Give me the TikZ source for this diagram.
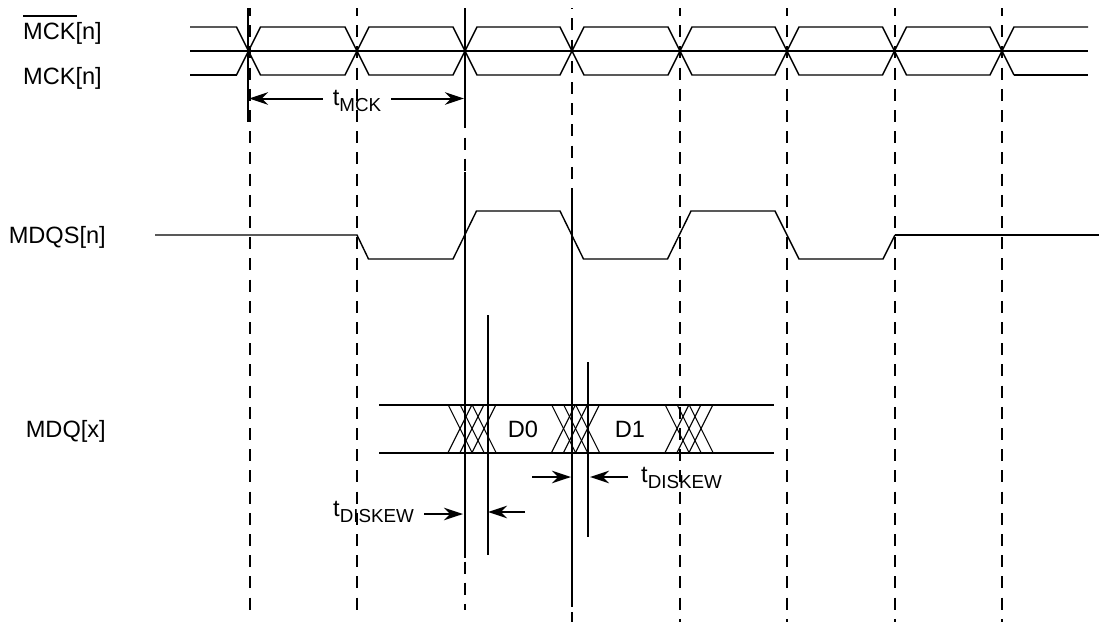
\documentclass[tikz,border=0pt]{standalone}
\usepackage{fontspec}
\setmainfont{Liberation Sans}
\usetikzlibrary{arrows.meta}
\newcommand{\subsc}[1]{{\fontsize{18.8}{19}\selectfont\raisebox{-6.5pt}{#1}}}
\tikzset{
  x=1pt,y=-1pt,
  guide/.style={line width=2pt,dash pattern=on 12pt off 9.2pt},
  timeline/.style={line width=2pt},
  wave/.style={line width=1.4pt,line join=miter},
  rail/.style={line width=2pt},
  xing/.style={line width=1.1pt},
  meas/.style={line width=2pt,-{Stealth[length=19pt,width=12.5pt,inset=6pt]}},
  lbl/.style={inner sep=0pt,font=\fontsize{23.6}{24}\selectfont},
}
\begin{document}
\begin{tikzpicture}
\useasboundingbox (0,0) rectangle (1099,622);
% dashed guides
\foreach \n/\x/\e/\p in {1/249.5/613/4,2/357/612/4,3/465/610/18.9,4/572/622/10.8,5/680/622/4,6/787/622/4,7/894.5/622/4,8/1002/622/4}{
  \coordinate (t\n) at (\x,8);
  \coordinate (b\n) at (\x,\e);
  \draw[guide,dash phase=\p pt] (t\n) -- (b\n);
}
% clock
\draw[rail] (190,51) -- (1088,51);
\draw[wave] (190,27) -- (236.5,27) -- (260.5,75) -- (345,75) -- (369,27) -- (453,27) -- (477,75) -- (560,75) -- (584,27) -- (668,27) -- (692,75) -- (775,75) -- (799,27) -- (882.5,27) -- (906.5,75) -- (990,75) -- (1014,27) -- (1088,27);
\draw[wave] (236.5,75) -- (260.5,27) -- (345,27) -- (369,75) -- (453,75) -- (477,27) -- (560,27) -- (584,75) -- (668,75) -- (692,27) -- (775,27) -- (799,75) -- (882.5,75) -- (906.5,27) -- (990,27) -- (1014,75);
\draw[rail] (190,75) -- (236.5,75);
\draw[rail] (1014,75) -- (1088,75);
% solid measure lines
\coordinate (sA1) at (248,8);    \coordinate (sA2) at (248,122);
\coordinate (sB1) at (465,8);    \coordinate (sB2) at (465,122);
\coordinate (sC1) at (465,172);  \coordinate (sC2) at (465,558);
\coordinate (sD1) at (572,192);  \coordinate (sD2) at (572,607);
\coordinate (sE1) at (488,315);  \coordinate (sE2) at (488,555);
\coordinate (sF1) at (588,362);  \coordinate (sF2) at (588,537);
\draw[timeline] (sA1) -- (sA2);
\draw[timeline] (sB1) -- (sB2);
\draw[timeline] (sC1) -- (sC2);
\draw[timeline] (sD1) -- (sD2);
\draw[timeline] (sE1) -- (sE2);
\draw[timeline] (sF1) -- (sF2);
% MDQS
\draw[wave] (155,235) -- (357,235) -- (368.5,259) -- (453,259) -- (476.5,211) -- (560,211) -- (583.5,259) -- (667.5,259) -- (691,211) -- (775,211) -- (799,259) -- (883,259) -- (895,235);
\draw[rail] (895,235) -- (1099,235);
% MDQ
\draw[rail] (379,404.5) -- (774,404.5);
\draw[rail] (379,452.5) -- (774,452.5);
\foreach \s in {448,551.5,665}{
  \foreach \o in {0,12,24}{
    \draw[xing] (\s+\o,404.5) -- (\s+\o+24,452.5);
    \draw[xing] (\s+\o+24,404.5) -- (\s+\o,452.5);
  }
}
% labels
\node[lbl,anchor=base east] (lmckb) at (102,39) {\makebox[0pt][l]{\rule[22.4pt]{54pt}{1.2pt}}MCK[n]};
\node[lbl,anchor=base east] (lmck) at (102,84) {MCK[n]};
\node[lbl,anchor=base east] (lmdqs) at (106,243) {MDQS[n]};
\node[lbl,anchor=base east] (lmdq) at (106,437) {MDQ[x]};
\node[lbl,anchor=base] (ld0) at (523,437) {D0};
\node[lbl,anchor=base] (ld1) at (630,437) {D1};
\node[lbl,anchor=base,inner xsep=10pt] (tmck) at (357,105) {t\subsc{MCK}};
\node[lbl,anchor=base west] (tdr) at (641,482) {t\subsc{DISKEW}};
\node[lbl,anchor=base west] (tdl) at (333,516) {t\subsc{DISKEW}};
% arrows
\coordinate (aMl) at (249,98.5); \coordinate (aMr) at (464,98.5);
\coordinate (aLs) at (424,514); \coordinate (aLe) at (463,514);
\coordinate (aRs) at (525,512); \coordinate (aRe) at (488,512);
\coordinate (aUs) at (532,477); \coordinate (aUe) at (571,477);
\coordinate (aVs) at (628,477); \coordinate (aVe) at (590,477);
\draw[meas] (tmck.west |- aMl) -- (aMl);
\draw[meas] (tmck.east |- aMr) -- (aMr);
\draw[meas] (aLs) -- (aLe);
\draw[meas] (aRs) -- (aRe);
\draw[meas] (aUs) -- (aUe);
\draw[meas] (aVs) -- (aVe);
\end{tikzpicture}
\end{document}
